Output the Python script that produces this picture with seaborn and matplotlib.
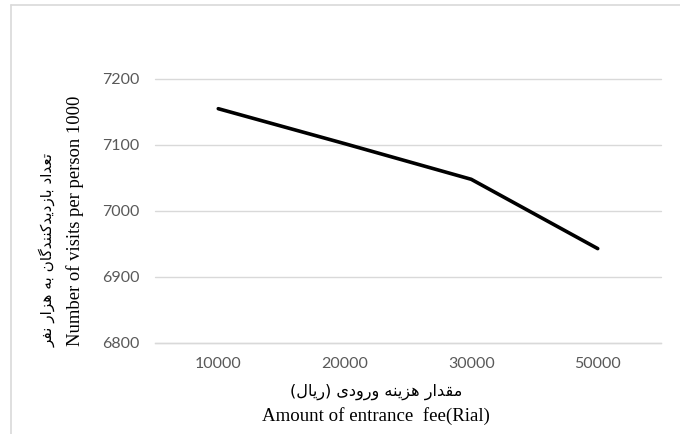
import matplotlib
matplotlib.use("Agg")
import matplotlib.pyplot as plt
from matplotlib.lines import Line2D
import seaborn as sns
import pandas as pd

# data
fees = ["10000", "20000", "30000", "50000"]
visits = [7155, 7102, 7048, 6943]
y_ticks = [6800, 6900, 7000, 7100, 7200]

x_title_fa = "مقدار هزینه ورودی (ریال)"
x_title_en = "Amount of entrance  fee(Rial)"
y_title_fa = "تعداد بازدیدکنندگان به هزار نفر"
y_title_en = "Number of visits per person 1000"

# matplotlib 3.10 has no Arabic shaping, so pick presentation forms by hand
# (isolated, final, initial, medial); None = letter does not join forward
FORMS = {
    "ا": ("\uFE8D", "\uFE8E", None, None),
    "ب": ("\uFE8F", "\uFE90", "\uFE91", "\uFE92"),
    "ت": ("\uFE95", "\uFE96", "\uFE97", "\uFE98"),
    "د": ("\uFEA9", "\uFEAA", None, None),
    "ر": ("\uFEAD", "\uFEAE", None, None),
    "ز": ("\uFEAF", "\uFEB0", None, None),
    "ع": ("\uFEC9", "\uFECA", "\uFECB", "\uFECC"),
    "ف": ("\uFED1", "\uFED2", "\uFED3", "\uFED4"),
    "ق": ("\uFED5", "\uFED6", "\uFED7", "\uFED8"),
    "ل": ("\uFEDD", "\uFEDE", "\uFEDF", "\uFEE0"),
    "م": ("\uFEE1", "\uFEE2", "\uFEE3", "\uFEE4"),
    "ن": ("\uFEE5", "\uFEE6", "\uFEE7", "\uFEE8"),
    "ه": ("\uFEE9", "\uFEEA", "\uFEEB", "\uFEEC"),
    "و": ("\uFEED", "\uFEEE", None, None),
    "ی": ("\uFBFC", "\uFBFD", "\uFBFE", "\uFBFF"),
    "ک": ("\uFB8E", "\uFB8F", "\uFB90", "\uFB91"),
    "گ": ("\uFB92", "\uFB93", "\uFB94", "\uFB95"),
}


def shape_fa(text):
    out = []
    for i, ch in enumerate(text):
        if ch not in FORMS:
            out.append(ch)
            continue
        prev = text[i - 1] if i > 0 else ""
        nxt = text[i + 1] if i + 1 < len(text) else ""
        join_prev = prev in FORMS and FORMS[prev][2] is not None
        join_next = nxt in FORMS and FORMS[ch][2] is not None
        iso, fin, ini, med = FORMS[ch]
        if join_prev and join_next:
            out.append(med)
        elif join_prev:
            out.append(fin)
        elif join_next:
            out.append(ini)
        else:
            out.append(iso)
    vis = "".join(reversed(out))
    return vis.translate(str.maketrans("()", ")("))


sns.set_style("white")
plt.rcParams["font.family"] = ["Lato", "DejaVu Sans"]

df = pd.DataFrame({"fee": fees, "visits": visits})

fig = plt.figure(figsize=(6.8, 4.34), dpi=100)
ax = fig.add_axes([0.228, 0.2097, 0.744, 0.6083])

sns.lineplot(data=df, x="fee", y="visits", ax=ax, color="black", lw=2.6,
             sort=False, solid_capstyle="round", zorder=3)

ax.set_xlim(-0.5, len(fees) - 0.5)
ax.set_ylim(y_ticks[0], y_ticks[-1])
ax.set_yticks(y_ticks)
ax.set_xlabel("")
ax.set_ylabel("")

ax.grid(axis="y", color="#d9d9d9", lw=1.0, clip_on=False)
ax.grid(axis="x", visible=False)
for side in ["top", "right", "left"]:
    ax.spines[side].set_visible(False)
ax.spines["bottom"].set_color("#d9d9d9")
ax.spines["bottom"].set_linewidth(1.0)
ax.tick_params(axis="both", length=0, labelsize=11.5, labelcolor="#595959")
ax.tick_params(axis="y", pad=11)
ax.tick_params(axis="x", pad=10)

# axis titles, Persian line above English line
fig.text(376 / 680, 1 - 392 / 434, shape_fa(x_title_fa), ha="center", va="center",
         fontsize=11.6, family="DejaVu Sans", color="black")
fig.text(376 / 680, 1 - 416 / 434, x_title_en, ha="center", va="center",
         fontsize=13.6, family="Liberation Serif", color="black")
fig.text(47 / 680, 1 - 347 / 434, shape_fa(y_title_fa), rotation=90, ha="center",
         va="bottom", fontsize=11, family="DejaVu Sans", color="black")
fig.text(75 / 680, 1 - 346 / 434, y_title_en, rotation=90, ha="center",
         va="bottom", fontsize=13.4, family="Liberation Serif", color="black")

# outer chart-area frame (left and top edges visible)
fig.add_artist(Line2D([11 / 680, 11 / 680], [0, 1 - 5 / 434], color="#d9d9d9", lw=1.2))
fig.add_artist(Line2D([11 / 680, 1], [1 - 5 / 434, 1 - 5 / 434], color="#d9d9d9", lw=1.2))

fig.savefig("out.png", dpi=100)
